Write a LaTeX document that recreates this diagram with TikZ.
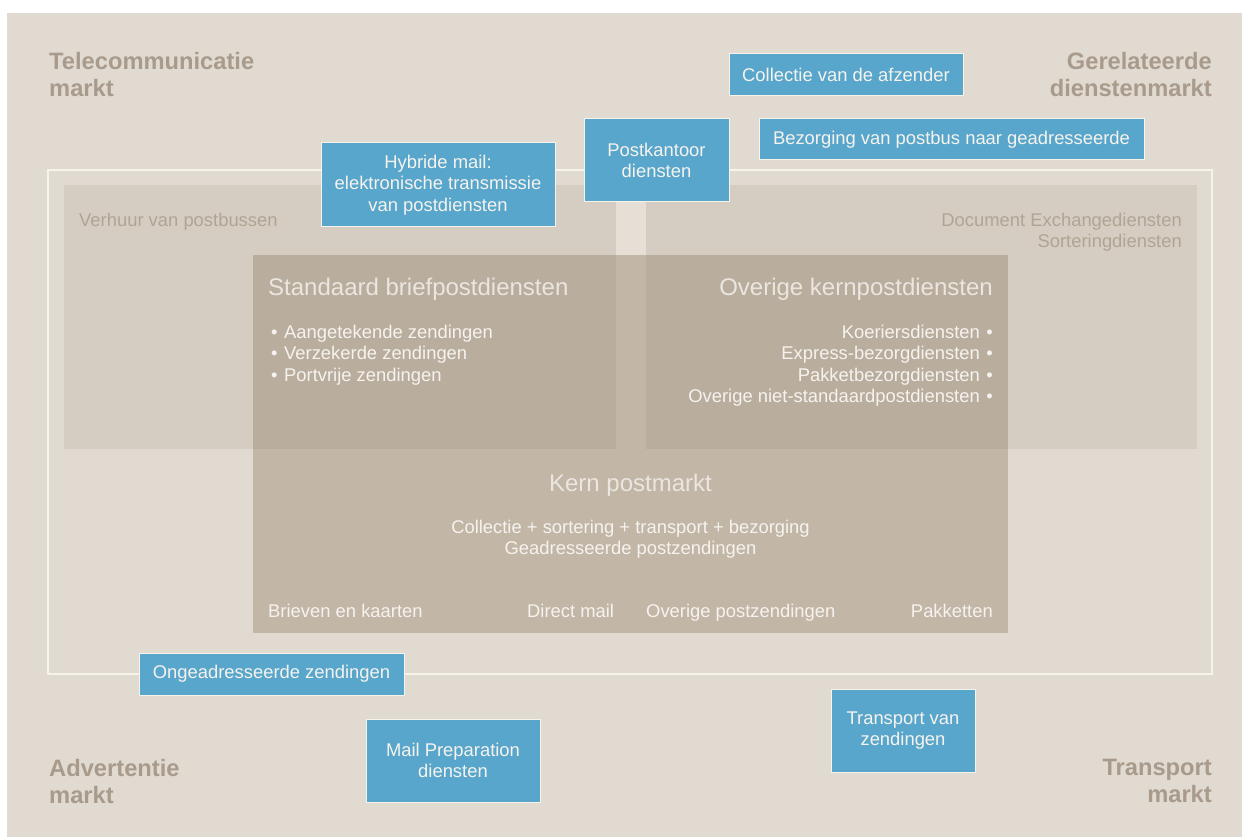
\documentclass[tikz,border=0pt]{standalone}
\usepackage{fontspec}
\setmainfont{Liberation Sans}
\usepackage{tikz}
\usetikzlibrary{positioning}
\definecolor{achtergrond}{HTML}{E1DAD1}
\definecolor{licht}{HTML}{D5CDC1}
\definecolor{kernkleur}{HTML}{C2B6A7}
\definecolor{donker}{HTML}{B9AD9E}
\definecolor{strook}{HTML}{E5DFD6}
\definecolor{marktgrijs}{HTML}{A89B8C}
\definecolor{blokgrijs}{HTML}{B1A495}
\definecolor{dienstblauw}{HTML}{58A6CB}
\definecolor{randwit}{HTML}{F6F3EA}
\definecolor{koptekst}{HTML}{EBE6DF}
\definecolor{tekstwit}{HTML}{F6F3EE}

\begin{document}
\begin{tikzpicture}[x=1pt,y=-1pt,
  markt/.style={font=\fontsize{23.7}{27}\selectfont\bfseries, text=marktgrijs, inner sep=0},
  klein/.style={font=\fontsize{18.4}{21.5}\selectfont, inner sep=0},
  kop/.style={font=\fontsize{24}{28}\selectfont, text=koptekst, inner sep=0},
  dienst/.style={klein, fill=dienstblauw, draw=randwit, line width=1pt, text=tekstwit, align=center}]
\useasboundingbox (0,0) rectangle (1242,837);
\fill[white] (0,0) rectangle (1242,837);
\fill[achtergrond] (7,13) rectangle (1242,837);

% kader van de postmarkt
\draw[randwit, line width=1.2pt] (48,170) rectangle (1212,674);

% vlakken
\fill[licht] (64,185) rectangle (616,449);
\fill[licht] (646,185) rectangle (1197,449);
\fill[strook] (616,185) rectangle (646,255);
\fill[kernkleur] (253,255) rectangle (1008,633);
\fill[donker] (253,255) rectangle (616,449);
\fill[donker] (646,255) rectangle (1008,449);

% markten
\node[markt, anchor=north west, align=left] (telecom) at (49,52) {Telecommunicatie\\markt};
\node[markt, anchor=north east, align=right] (gerelateerd) at (1212,52) {Gerelateerde\\dienstenmarkt};
\node[markt, anchor=north west, align=left] (advertentie) at (49,759) {Advertentie\\markt};
\node[markt, anchor=north east, align=right] (transportmarkt) at (1212,759) {Transport\\markt};

% aanverwante diensten
\node[klein, text=blokgrijs, anchor=base west] (verhuur) at (79,226) {Verhuur van postbussen};
\node[klein, text=blokgrijs, anchor=north east, align=right] (docex) at (1182,212.5) {Document Exchangediensten\\Sorteringdiensten};

% kernpostdiensten
\node[kop, anchor=base west] (standaard) at (268,295) {Standaard briefpostdiensten};
\node[klein, text=tekstwit, anchor=north west, align=left] (standaardlijst) at (271,324.5)
  {•\hspace{6.5pt}Aangetekende zendingen\\•\hspace{6.5pt}Verzekerde zendingen\\•\hspace{6.5pt}Portvrije zendingen};
\node[kop, anchor=base east] (overige) at (993,295) {Overige kernpostdiensten};
\node[klein, text=tekstwit, anchor=north east, align=right] (overigelijst) at (993,324.5)
  {Koeriersdiensten\hspace{6.5pt}•\\Express-bezorgdiensten\hspace{6.5pt}•\\Pakketbezorgdiensten\hspace{6.5pt}•\\Overige niet-standaardpostdiensten\hspace{6.5pt}•};

\node[kop, anchor=base] (kern) at (630.5,491) {Kern postmarkt};
\node[klein, text=tekstwit, anchor=north, align=center] (kernlijst) at (630.5,519.5)
  {Collectie + sortering + transport + bezorging\\Geadresseerde postzendingen};
\node[klein, text=tekstwit, anchor=base west] (brieven) at (268,617) {Brieven en kaarten};
\node[klein, text=tekstwit, anchor=base west] (direct) at (527,617) {Direct mail};
\node[klein, text=tekstwit, anchor=base west] (overigpost) at (646,617) {Overige postzendingen};
\node[klein, text=tekstwit, anchor=base east] (pakketten) at (993,617) {Pakketten};

% blauwe diensten
\node[dienst, minimum width=234, minimum height=42] (collectie) at (846,75) {Collectie van de afzender};
\node[dienst, minimum width=385, minimum height=41] (bezorging) at (951.5,139.5) {Bezorging van postbus naar geadresseerde};
\node[dienst, minimum width=145, minimum height=83] (postkantoor) at (656.5,160.5) {Postkantoor\\diensten};
\node[dienst, minimum width=234, minimum height=84] (hybride) at (438,185) {Hybride mail:\\elektronische transmissie\\van postdiensten};
\node[dienst, minimum width=265, minimum height=42] (ongeadresseerd) at (271.5,674) {Ongeadresseerde zendingen};
\node[dienst, minimum width=174, minimum height=83] (mailprep) at (453,760.5) {Mail Preparation\\diensten};
\node[dienst, minimum width=144, minimum height=83] (transport) at (903,730.5) {Transport van\\zendingen};
\end{tikzpicture}
\end{document}
